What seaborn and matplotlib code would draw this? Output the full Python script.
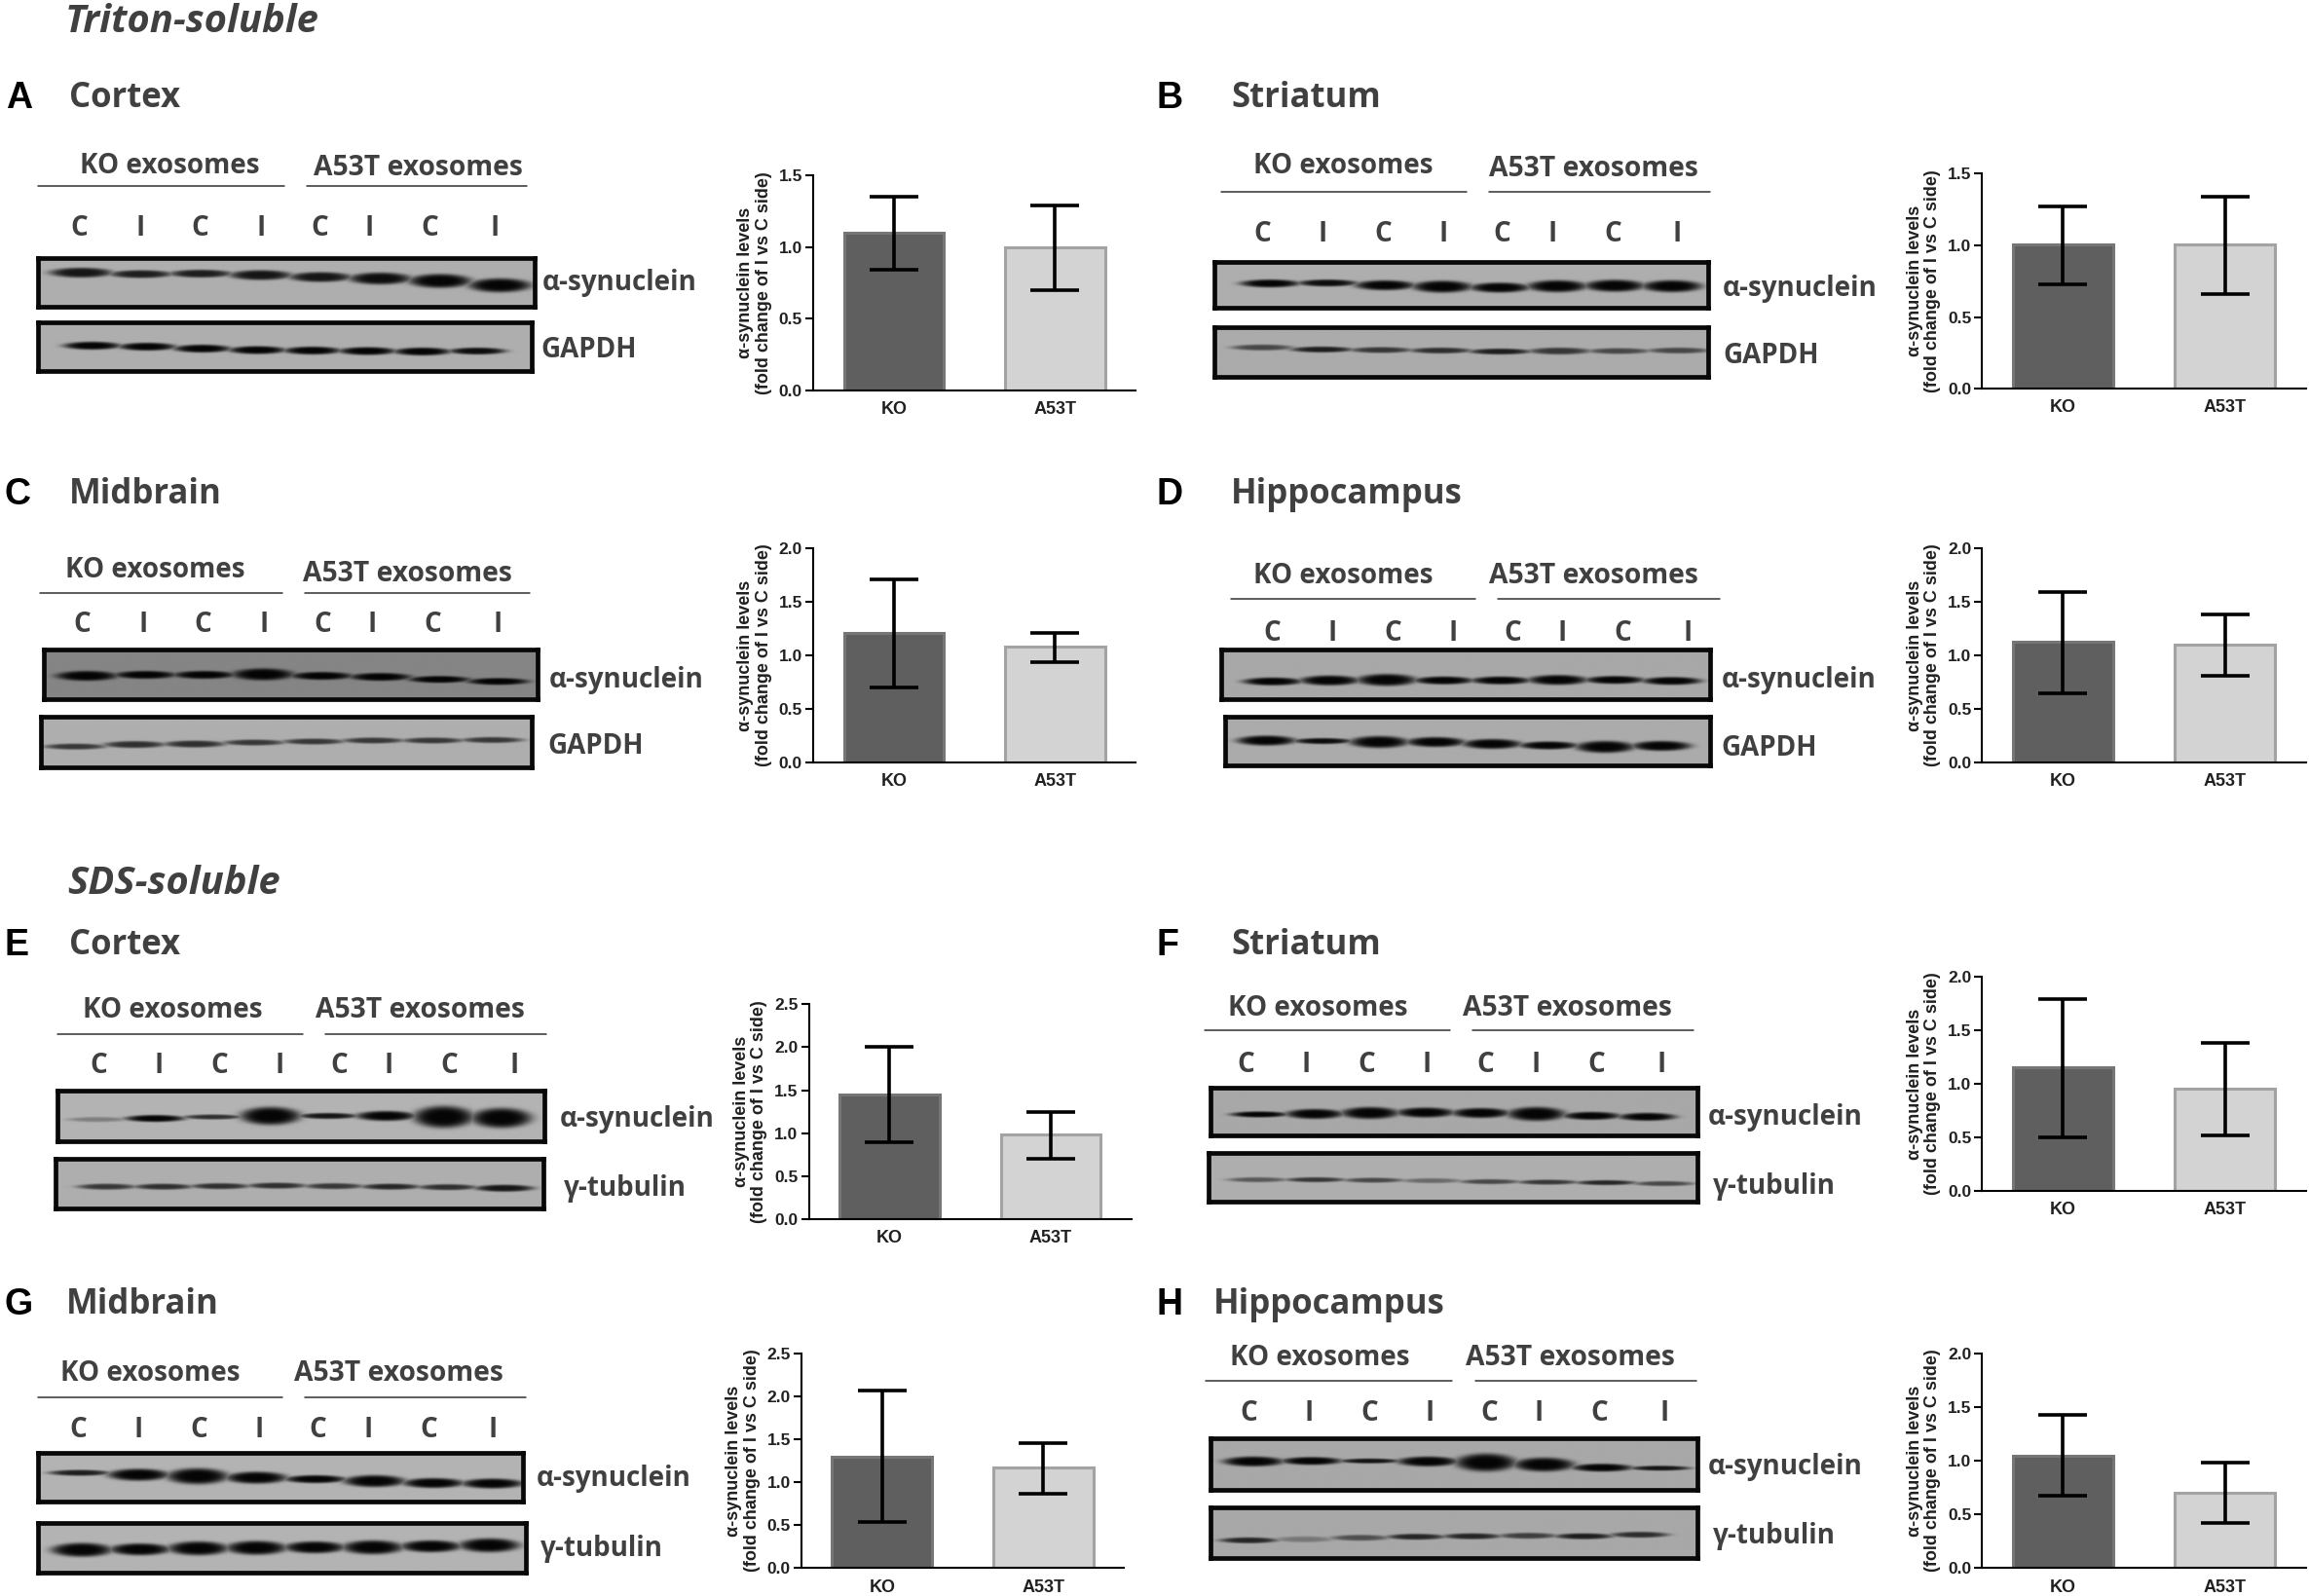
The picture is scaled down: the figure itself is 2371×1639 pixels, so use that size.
import numpy as np
import pandas as pd
import matplotlib
matplotlib.use("Agg")
import matplotlib.pyplot as plt
import seaborn as sns

sns.set_theme(style="ticks")
plt.rcParams["font.family"] = ["Open Sans", "DejaVu Sans"]

# ---- bar chart values, panels A..H ----
PANELS = ["A", "B", "C", "D", "E", "F", "G", "H"]
GROUPS = ["KO", "A53T"]
KO_MEAN = [1.10, 1.01, 1.21, 1.13, 1.45, 1.15, 1.30, 1.05]
KO_LOW = [0.84, 0.73, 0.70, 0.65, 0.89, 0.50, 0.54, 0.67]
KO_HIGH = [1.35, 1.27, 1.71, 1.59, 2.01, 1.79, 2.07, 1.43]
A53T_MEAN = [1.00, 1.01, 1.08, 1.10, 0.98, 0.95, 1.17, 0.70]
A53T_LOW = [0.70, 0.66, 0.94, 0.81, 0.70, 0.52, 0.87, 0.42]
A53T_HIGH = [1.29, 1.34, 1.21, 1.38, 1.25, 1.38, 1.45, 0.98]
Y_MAX = [1.5, 1.5, 2.0, 2.0, 2.5, 2.0, 2.5, 2.0]
Y_TICKS = [[0, .5, 1, 1.5], [0, .5, 1, 1.5], [0, .5, 1, 1.5, 2], [0, .5, 1, 1.5, 2],
           [0, .5, 1, 1.5, 2, 2.5], [0, .5, 1, 1.5, 2], [0, .5, 1, 1.5, 2, 2.5], [0, .5, 1, 1.5, 2]]

# ---- text ----
REGIONS = ["Cortex", "Striatum", "Midbrain", "Hippocampus", "Cortex", "Striatum", "Midbrain", "Hippocampus"]
LOADING = ["GAPDH", "GAPDH", "GAPDH", "GAPDH", "γ-tubulin", "γ-tubulin", "γ-tubulin", "γ-tubulin"]
LANE_LABELS = ["C", "I", "C", "I", "C", "I", "C", "I"]
Y_LABEL = "α-synuclein levels\n(fold change of I vs C side)"

# ---- band estimates per blot: vertical place, half thickness, darkness ----
A_ALPHA_Y = [.30, .33, .32, .35, .39, .42, .47, .56]
A_ALPHA_H = [5, 4, 4, 5, 5, 6, 7, 7]
A_ALPHA_D = [.9, .85, .85, .9, .9, .95, 1, 1]
A_LOAD_Y = [.48, .50, .54, .57, .58, .59, .60, .59]
A_LOAD_H = [4, 4, 4, 4, 4, 4, 4, 3.5]
A_LOAD_D = [1, 1, 1, 1, 1, 1, 1, .95]
B_ALPHA_Y = [.47, .46, .51, .54, .56, .53, .52, .53]
B_ALPHA_H = [4, 3.5, 5, 6, 5, 6, 6, 6]
B_ALPHA_D = [1, .95, 1, 1, 1, 1, 1, 1]
B_LOAD_Y = [.42, .46, .47, .48, .50, .49, .49, .48]
B_LOAD_H = [3, 3, 3, 3, 3, 3.5, 3, 3]
B_LOAD_D = [.6, .85, .7, .75, .85, .7, .6, .6]
C_ALPHA_Y = [.54, .52, .52, .51, .54, .56, .61, .65]
C_ALPHA_H = [5, 4, 4, 6, 4, 4, 3.5, 3.5]
C_ALPHA_D = [1, 1, 1, 1, 1, 1, 1, 1]
C_LOAD_Y = [.59, .55, .54, .51, .49, .47, .47, .46]
C_LOAD_H = [3, 3.5, 3.5, 3, 3, 3, 3, 3]
C_LOAD_D = [.7, .75, .75, .7, .7, .7, .7, .7]
D_ALPHA_Y = [.65, .63, .62, .63, .63, .62, .62, .64]
D_ALPHA_H = [4, 5, 6, 4, 4, 5, 4, 4]
D_ALPHA_D = [1, 1, 1, 1, 1, 1, 1, 1]
D_LOAD_Y = [.49, .50, .52, .52, .56, .59, .62, .60]
D_LOAD_H = [5, 3, 6, 5, 5, 4, 6, 5]
D_LOAD_D = [1, .95, 1, 1, 1, 1, 1, 1]
E_ALPHA_Y = [.57, .55, .52, .50, .50, .50, .52, .54]
E_ALPHA_H = [2.5, 3.5, 2.5, 9, 3, 5, 11, 10]
E_ALPHA_D = [.3, 1, .75, 1, .9, 1, 1, 1]
E_LOAD_Y = [.57, .57, .56, .55, .56, .57, .58, .60]
E_LOAD_H = [3, 3, 3, 3, 3, 3, 3, 3.5]
E_LOAD_D = [.7, .75, .75, .75, .7, .8, .75, .9]
F_ALPHA_Y = [.56, .55, .53, .52, .53, .55, .59, .61]
F_ALPHA_H = [3, 5, 6, 5, 5, 7, 4, 4]
F_ALPHA_D = [1, 1, 1, 1, 1, 1, 1, 1]
F_LOAD_Y = [.55, .55, .56, .57, .59, .60, .61, .63]
F_LOAD_H = [2.5, 2.5, 2.5, 2.5, 2.5, 2.5, 2.5, 2.5]
F_LOAD_D = [.5, .7, .6, .4, .6, .7, .8, .6]
G_ALPHA_Y = [.41, .45, .48, .51, .54, .58, .62, .63]
G_ALPHA_H = [3, 6, 8, 6, 4, 6, 5, 5]
G_ALPHA_D = [.85, 1, 1, 1, 1, 1, 1, 1]
G_LOAD_Y = [.55, .54, .52, .51, .50, .50, .48, .46]
G_LOAD_H = [7, 6, 7, 7, 6, 7, 6, 7]
G_LOAD_D = [1, 1, 1, 1, 1, 1, 1, 1]
H_ALPHA_Y = [.45, .44, .44, .45, .47, .51, .57, .58]
H_ALPHA_H = [5, 4, 2.5, 5, 9, 7, 4, 2.5]
H_ALPHA_D = [1, 1, .9, 1, 1, 1, 1, .9]
H_LOAD_Y = [.65, .63, .60, .58, .57, .56, .57, .54]
H_LOAD_H = [3, 3, 3, 3, 3, 3, 3, 3]
H_LOAD_D = [.8, .3, .55, .8, .8, .65, .85, .75]

BLOT_BANDS = [
    (A_ALPHA_Y, A_ALPHA_H, A_ALPHA_D), (A_LOAD_Y, A_LOAD_H, A_LOAD_D),
    (B_ALPHA_Y, B_ALPHA_H, B_ALPHA_D), (B_LOAD_Y, B_LOAD_H, B_LOAD_D),
    (C_ALPHA_Y, C_ALPHA_H, C_ALPHA_D), (C_LOAD_Y, C_LOAD_H, C_LOAD_D),
    (D_ALPHA_Y, D_ALPHA_H, D_ALPHA_D), (D_LOAD_Y, D_LOAD_H, D_LOAD_D),
    (E_ALPHA_Y, E_ALPHA_H, E_ALPHA_D), (E_LOAD_Y, E_LOAD_H, E_LOAD_D),
    (F_ALPHA_Y, F_ALPHA_H, F_ALPHA_D), (F_LOAD_Y, F_LOAD_H, F_LOAD_D),
    (G_ALPHA_Y, G_ALPHA_H, G_ALPHA_D), (G_LOAD_Y, G_LOAD_H, G_LOAD_D),
    (H_ALPHA_Y, H_ALPHA_H, H_ALPHA_D), (H_LOAD_Y, H_LOAD_H, H_LOAD_D),
]

# ---- layout, in units of a 1568-wide page ----
W, H = 2371, 1639
S = W / 1568
BAR_CENTER0 = [607, 1401, 607, 1401, 604, 1401, 599, 1401]
BAR_TOP = [119, 118, 372, 372, 682, 663, 919, 919]
BLOT_BOX = [
    (26, 363, 175, 208), (26, 361, 219, 252), (825, 1160, 178, 209), (825, 1160, 222, 256),
    (30, 365, 441, 475), (28, 361, 487, 521), (829, 1161, 441, 475), (832, 1161, 487, 520),
    (39, 370, 741, 775), (38, 369, 787, 821), (822, 1153, 739, 771), (821, 1153, 783, 816),
    (26, 355, 987, 1020), (26, 357, 1034, 1068), (822, 1153, 977, 1012), (822, 1153, 1024, 1058),
]
BLOT_BG = [.68, .68, .68, .67, .52, .68, .66, .67, .70, .68, .66, .68, .70, .70, .66, .66]
LANE_SPAN = [(.087, .93), (.11, .89), (.113, .927), (.097, .94), (.087, .92), (.07, .92), (.105, .92), (.085, .90),
             (.082, .91), (.105, .92), (.10, .895), (.10, .93), (.086, .937), (.09, .925), (.088, .922), (.078, .88)]
BLOT_LABEL_X = [368, 367, 1170, 1170, 373, 372, 1169, 1169, 380, 383, 1160, 1163, 364, 367, 1160, 1163]
BLOT_LABEL_Y = [190, 236, 194, 240, 460, 505, 460, 506, 758, 805, 757, 804, 1002, 1050, 994, 1041]
KO_TXT = [(54, 111), (851, 111), (44, 385), (851, 389), (56, 684), (834, 683), (41, 931), (835, 920)]
A53T_TXT = [(213, 112), (1011, 113), (206, 388), (1011, 389), (214, 684), (993, 683), (200, 931), (995, 920)]
RULES = [(26, 193, 208, 358, 126.5), (829, 996, 1011, 1161, 130), (27, 192, 207, 360, 403), (836, 1002, 1017, 1168, 407),
         (39, 206, 221, 371, 702), (818, 985, 1000, 1150, 700), (26, 192, 207, 357, 949), (819, 986, 1002, 1152, 938)]
LANE_X0 = [54, 857, 56, 864, 67, 846, 53, 848]
LANE_Y = [153, 157, 422, 428, 722, 721, 969, 958]
LANE_OFF = [0, 41, 82, 123, 163, 197, 238, 282]
HEAD_Y = [65, 65, 334, 334, 640, 640, 884, 884]
HEAD_X = [47, 836, 47, 836, 47, 836, 45, 824]
LETTER_X = [4, 785, 3, 785, 3, 785, 3, 785]
TEXT_DY = 2

KO_FILL, KO_EDGE = "#5f5f5f", "#767676"
A53T_FILL, A53T_EDGE = "#d3d3d3", "#a3a3a3"
INK = "#404040"
ARIAL = ["Liberation Sans", "DejaVu Sans"]

fig = plt.figure(figsize=(W / 100, H / 100), dpi=100, facecolor="white")
page = fig.add_axes([0, 0, 1, 1], zorder=5)
page.set_xlim(0, 1568)
page.set_ylim(H / S, 0)
page.axis("off")
page.patch.set_alpha(0)


def axes_at(x0, x1, y0, y1, **kw):
    return fig.add_axes([x0 / 1568, 1 - y1 / (H / S), (x1 - x0) / 1568, (y1 - y0) / (H / S)], **kw)


def blot_image(box, bands, bg, span):
    nx = int((box[1] - box[0]) * S)
    ny = int((box[3] - box[2]) * S)
    xx, yy = np.meshgrid(np.arange(nx) + .5, np.arange(ny) + .5)
    shade = np.zeros((ny, nx))
    ys, hs, ds = bands
    centers = np.linspace(span[0], span[1], 8) * nx
    half = (centers[1] - centers[0]) * .52
    for cx, fy, th, dk in zip(centers, ys, hs, ds):
        r = ((xx - cx) / half) ** 2 + ((yy - fy * ny) / th) ** 2
        shade = np.maximum(shade, dk * np.exp(-r ** 2.4))
    return bg * (1 - .97 * shade)


for i, box in enumerate(BLOT_BOX):
    ax = axes_at(box[0], box[1], box[2], box[3])
    ax.imshow(blot_image(box, BLOT_BANDS[i], BLOT_BG[i], LANE_SPAN[i]), cmap="gray", vmin=0, vmax=1,
              aspect="auto", interpolation="bilinear")
    ax.set_xticks([])
    ax.set_yticks([])
    for sp in ax.spines.values():
        sp.set_linewidth(3.4)
        sp.set_color("#080808")
    name = "α-synuclein" if i % 2 == 0 else LOADING[i // 2]
    page.text(BLOT_LABEL_X[i], BLOT_LABEL_Y[i] + TEXT_DY, name, fontsize=20, fontweight="bold", color=INK,
              ha="left", va="center")

for p, panel in enumerate(PANELS):
    c0 = BAR_CENTER0[p]
    spacing = 110 if p % 2 else 109.5
    top = BAR_TOP[p]
    ax = axes_at(c0 - spacing / 2, c0 + 1.5 * spacing, top, top + 146)
    frame = pd.DataFrame({"group": GROUPS, "level": [KO_MEAN[p], A53T_MEAN[p]]})
    sns.barplot(data=frame, x="group", y="level", hue="group", palette=[KO_FILL, A53T_FILL], width=.62,
                errorbar=None, legend=False, ax=ax, saturation=1)
    for bar, ec in zip(ax.patches, [KO_EDGE, A53T_EDGE]):
        bar.set_edgecolor(ec)
        bar.set_linewidth(2.2)
    means = np.array([KO_MEAN[p], A53T_MEAN[p]])
    lower = means - np.array([KO_LOW[p], A53T_LOW[p]])
    upper = np.array([KO_HIGH[p], A53T_HIGH[p]]) - means
    ax.errorbar([0, 1], means, yerr=[lower, upper], fmt="none", ecolor="black", elinewidth=2.6,
                capsize=18, capthick=2.6, zorder=5)
    ax.set_xlim(-.5, 1.5)
    ax.set_ylim(0, Y_MAX[p])
    ax.set_yticks(Y_TICKS[p])
    ax.set_yticklabels([f"{t:.1f}" for t in Y_TICKS[p]], fontsize=12.5, fontweight="bold",
                       family=ARIAL, color="#202020")
    ax.set_xticks([0, 1])
    ax.set_xticklabels(GROUPS, fontsize=13, fontweight="bold", family=ARIAL, color="#202020")
    ax.tick_params(axis="y", length=6, width=1.5, color="black", pad=2)
    ax.tick_params(axis="x", length=0, pad=8)
    ax.set_xlabel("")
    ax.set_ylabel(Y_LABEL, fontsize=13, fontweight="bold", family=ARIAL,
                  color="#202020", labelpad=5, linespacing=1.1)
    sns.despine(ax=ax)
    for side in ["left", "bottom"]:
        ax.spines[side].set_linewidth(1.5)
        ax.spines[side].set_color("black")

    page.text(LETTER_X[p], HEAD_Y[p] + TEXT_DY, panel, fontsize=27, fontweight="bold", color="black",
              ha="left", va="center", family=ARIAL)
    page.text(HEAD_X[p], HEAD_Y[p] + TEXT_DY, REGIONS[p], fontsize=25, fontweight="bold", color=INK,
              ha="left", va="center")
    page.text(KO_TXT[p][0], KO_TXT[p][1] + TEXT_DY, "KO exosomes", fontsize=20, fontweight="bold", color=INK,
              ha="left", va="center")
    page.text(A53T_TXT[p][0], A53T_TXT[p][1] + TEXT_DY, "A53T exosomes", fontsize=20.3, fontweight="bold",
              color=INK, ha="left", va="center")
    r = RULES[p]
    page.plot([r[0], r[1]], [r[4], r[4]], color="#303030", lw=1.1)
    page.plot([r[2], r[3]], [r[4], r[4]], color="#303030", lw=1.1)
    for off, lab in zip(LANE_OFF, LANE_LABELS):
        page.text(LANE_X0[p] + off, LANE_Y[p] + TEXT_DY, lab, fontsize=20, color=INK, fontweight="bold",
                  ha="center", va="center")

page.text(44, 15, "Triton-soluble", fontsize=28.8, fontweight="bold", style="italic", color=INK, ha="left", va="center")
page.text(46, 600, "SDS-soluble", fontsize=28.8, fontweight="bold", style="italic", color=INK, ha="left", va="center")

fig.savefig("out.png", dpi=100, facecolor="white")
